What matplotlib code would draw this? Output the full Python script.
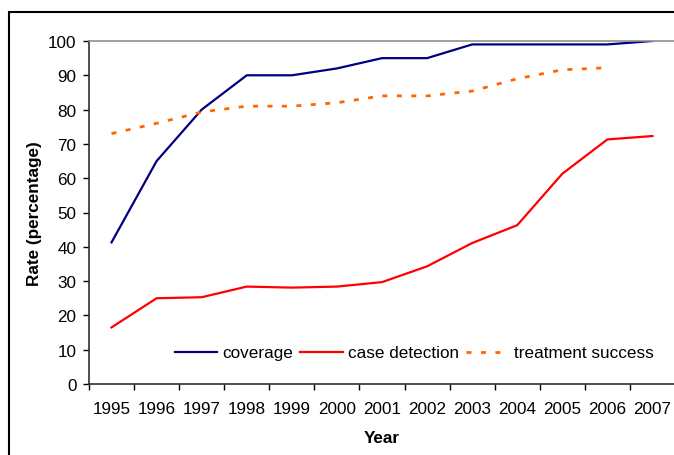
import matplotlib
matplotlib.use("Agg")
import matplotlib.pyplot as plt
from matplotlib.patches import Rectangle
from matplotlib.ticker import FixedLocator

plt.rcParams['font.family'] = ['Liberation Sans', 'DejaVu Sans']

years = ["1995", "1996", "1997", "1998", "1999", "2000", "2001",
         "2002", "2003", "2004", "2005", "2006", "2007"]
coverage = [41.3, 65, 80, 90, 90, 92, 95, 95, 99, 99, 99, 99, 100]
case_detection = [16.5, 25, 25.3, 28.4, 28.1, 28.4, 29.7, 34.3, 41.1, 46.3, 61.3, 71.3, 72.3]
treatment_years = years[:12]
treatment_success = [73, 76, 79.3, 81, 81, 82, 84, 84, 85.4, 89, 91.6, 92.2]

FS = 12.3
fig = plt.figure(figsize=(6.74, 4.56), dpi=100)
ax = fig.add_axes([89/674, 1-385/456, 586/674, (385-42)/456])

x = list(range(len(years)))
xt = list(range(len(treatment_years)))
ax.plot(x, coverage, color='#000080', lw=1.6, label='coverage')
ax.plot(x, case_detection, color='#FF0000', lw=1.6, label='case detection')
ax.plot(xt, treatment_success, color='#FF6600', lw=2.0, linestyle=(0, (1.8, 3.4)),
        label='treatment success')

ax.set_xlim(-0.5, len(years) - 0.5)
ax.set_ylim(0, 100)
ax.set_yticks(range(0, 101, 10))
ax.set_xticks(x)
ax.set_xticklabels(years)
ax.xaxis.set_minor_locator(FixedLocator([i - 0.5 for i in range(len(years) + 1)]))
ax.tick_params(axis='x', which='major', length=0, pad=12.5, labelsize=FS)
ax.tick_params(axis='x', which='minor', length=4, width=1, direction='out')
ax.tick_params(axis='y', length=4, width=1, direction='out', labelsize=FS, pad=5)

for s in ['left', 'bottom']:
    ax.spines[s].set_color('#303030')
    ax.spines[s].set_linewidth(1.2)
ax.spines['right'].set_visible(False)
ax.spines['top'].set_color('#909090')
ax.spines['top'].set_linewidth(1.2)

ax.set_xlabel('Year', fontsize=FS, fontweight='bold', labelpad=10)
ax.set_ylabel('Rate (percentage)', fontsize=FS, fontweight='bold', labelpad=4)

fig.legend(loc='center', bbox_to_anchor=(414/674, 1-354/456), ncol=3, frameon=False,
           fontsize=FS, handlelength=2.5, handletextpad=0.3, columnspacing=0.4,
           borderpad=0, borderaxespad=0)

fig.add_artist(Rectangle((9/674, -0.1), 1.2, 0.1 + 1 - 13/456, transform=fig.transFigure,
                         fill=False, edgecolor='black', lw=1.5))

fig.savefig('out.png', dpi=100)
